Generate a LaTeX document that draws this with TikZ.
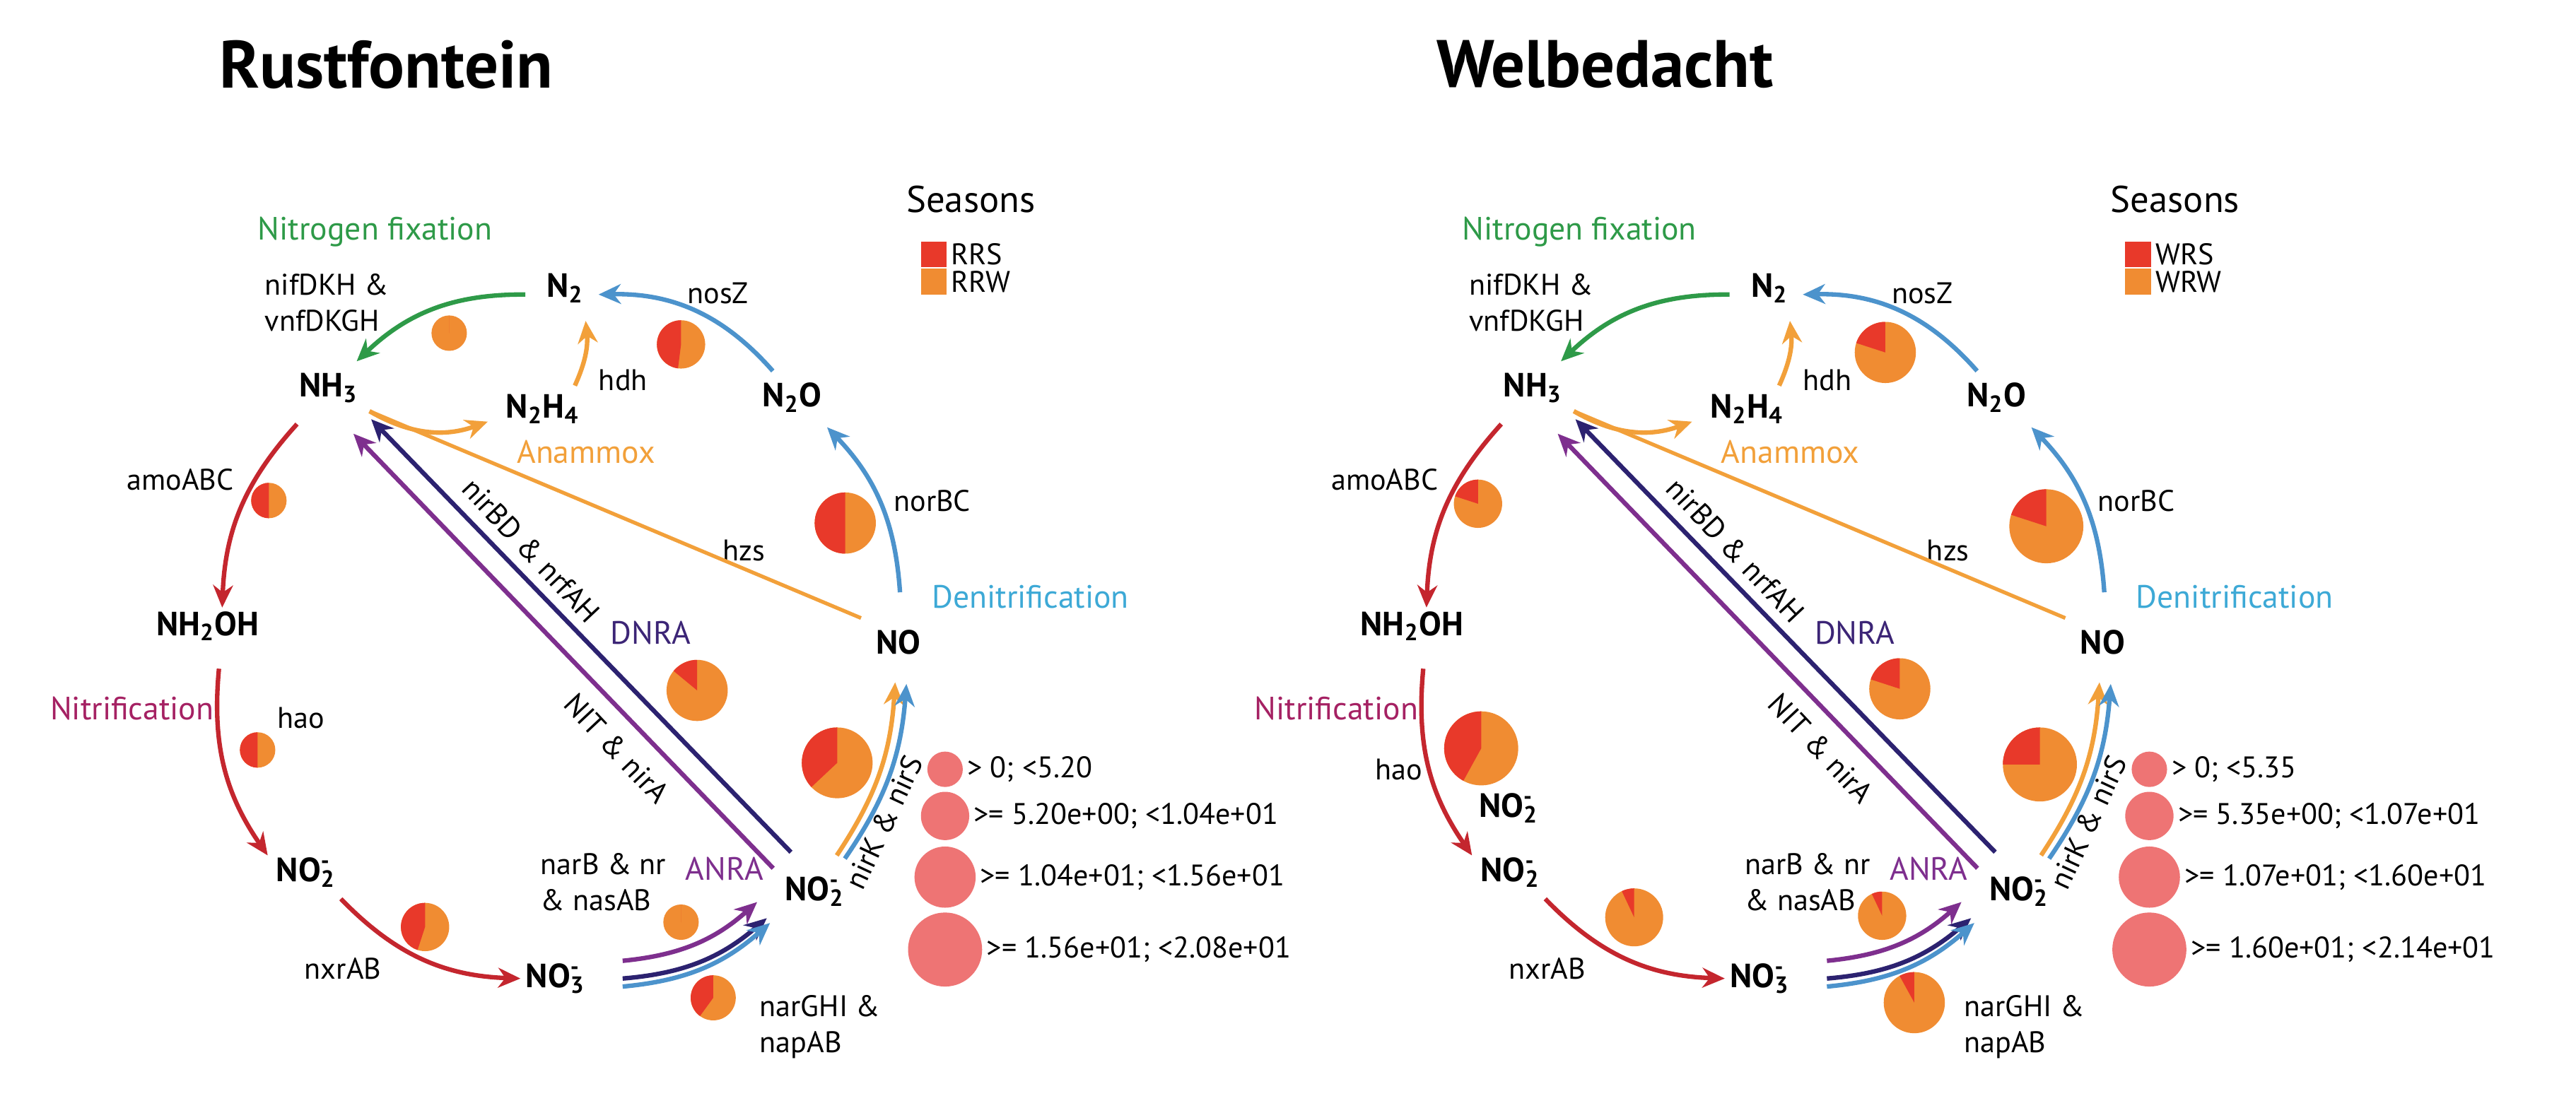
\documentclass[tikz,border=0pt]{standalone}
\usepackage{fontspec}
\setmainfont{PT Sans}
\usetikzlibrary{positioning, calc}
\usetikzlibrary{arrows, arrows.meta}
\tikzset{>={Stealth[length=9pt,width=8pt]}}
\definecolor{cred}{HTML}{C4262E}
\definecolor{cgreen}{HTML}{2E9A48}
\definecolor{cblue}{HTML}{4C93CC}
\definecolor{corange}{HTML}{F2A03A}
\definecolor{cpurple}{HTML}{7E2F8E}
\definecolor{cnavy}{HTML}{2C2270}
\definecolor{pred}{HTML}{E8392A}
\definecolor{porange}{HTML}{F08C32}
\definecolor{psize}{HTML}{EE7474}
\tikzset{
  mol/.style={font=\fontsize{13.5}{15}\selectfont\bfseries, inner sep=2pt},
  lbl/.style={font=\fontsize{12}{14.5}\selectfont, align=left, inner sep=1pt},
  path/.style={font=\fontsize{13}{15}\selectfont, inner sep=1pt},
  flow/.style={line width=1.8pt, ->},
  rod/.style={line width=1.5pt},
}
\newcommand\nox[2]{#1\rlap{\textsuperscript{-}}\textsubscript{#2}}
% pie: centre, radius, red share
\newcommand\seasonpie[4]{%
  \fill[porange] (#1,#2) circle[radius=#3];
  \fill[pred] (#1,#2) -- ++(90:#3) arc[start angle=90, delta angle=#4*360, radius=#3] -- cycle;}
\newcommand\cyclepanel[7]{%
  % species
  \node[mol] (nh3) at (204,-241) {NH\textsubscript{3}};
  \node[mol] (ntwo) at (351,-179) {N\textsubscript{2}};
  \node[mol] (n2h4) at (337,-254) {N\textsubscript{2}H\textsubscript{4}};
  \node[mol] (n2o) at (492,-247) {N\textsubscript{2}O};
  \node[mol] (nh2oh) at (129,-389) {NH\textsubscript{2}OH};
  \node[mol] (no) at (558,-399) {NO};
  \node[mol] (notwoL) at (190,-542) {\nox{NO}{2}};
  \node[mol] (nothree) at (345,-608) {\nox{NO}{3}};
  \node[mol] (notwoR) at (506,-554) {\nox{NO}{2}};
  % pathways
  \node[path, text=cgreen] at (233,-144) {Nitrogen fixation};
  \node[path, text=corange] at (364,-281) {Anammox};
  \node[path, text=cblue!80!cyan] at (640,-371) {Denitrification};
  \node[path, text=cnavy!80!cpurple] at (404,-393) {DNRA};
  \node[path, text=cpurple!70!red] at (82,-440) {Nitrification};
  \node[path, text=cpurple] at (450,-540) {ANRA};
  % genes
  \node[lbl] at (203,-188) {nifDKH \&\\vnfDKGH};
  \node[lbl] at (446,-182) {nosZ};
  \node[lbl] at (387,-236) {hdh};
  \node[lbl] at (112,-298) {amoABC};
  \node[lbl] at (579,-311) {norBC};
  \node[lbl] at (462,-342) {hzs};
  \node[lbl, anchor=west] at (334,-548) {narB \& nr\\\& nasAB};
  \node[lbl] at (213,-602) {nxrAB};
  \node[lbl, anchor=west] at (470,-638) {narGHI \&\\napAB};
  \node[lbl, rotate=-46.8] at (330,-342) {nirBD \& nrfAH};
  \node[lbl, rotate=-46.8] at (383,-465) {NIT \& nirA};
  \node[lbl, rotate=65] at (549,-511) {nirK \& nirS};
  % arrows
  \draw[flow, cgreen] ($(ntwo.west)+(-10,-4)$) to[bend right=22] ($(nh3.north east)+(-4,4)$);
  \draw[flow, cblue] ($(n2o.north)+(-12,4)$) to[bend right=25] ($(ntwo.east)+(6,-4)$);
  \draw[flow, corange] ($(n2h4.north east)+(-6,2)$) to[bend right=15] ($(ntwo.south east)+(-2,-8)$);
  \draw[flow, corange] ($(nh3.south east)+(4,-2)$) to[bend right=25] ($(n2h4.west)+(-8,-8)$);
  \draw[rod, corange] ($(no.north west)+(-6,4)$) -- ($(nh3.south east)+(4,-2)$);
  \draw[flow, cblue] ($(no.north)+(1,20)$) to[bend right=20] ($(n2o.south east)+(0,-6)$);
  \draw[flow, cred] ($(nh3.south west)+(2,-10)$) to[bend right=20] ($(nh2oh.north)+(9,-1)$);
  \draw[flow, cred] ($(nh2oh.south)+(7,-14)$) to[bend right=20] ($(notwoL.north west)+(-2,-2)$);
  \draw[flow, cred] ($(notwoL.south east)+(0,-4)$) to[bend right=22] (nothree.west);
  \draw[flow, cpurple] ($(nothree.east)+(20,11)$) to[bend right=18] ($(notwoR.south west)+(-14,6)$);
  \draw[flow, cnavy] ($(nothree.east)+(20,0)$) to[bend right=18] ($(notwoR.south west)+(-8,-4)$);
  \draw[flow, cblue] ($(nothree.east)+(20,-5)$) to[bend right=18] ($(notwoR.south west)+(-6,-7)$);
  \draw[flow, corange] ($(notwoR.north east)+(-8,10)$) to[bend right=15] ($(no.south)+(-2,-14)$);
  \draw[flow, cblue] ($(notwoR.north east)+(-3,8)$) to[bend right=15] ($(no.south)+(5,-15)$);
  \draw[flow, cpurple] ($(notwoR.north west)+(-4,2)$) -- ($(nh3.south east)+(-6,-16)$);
  \draw[flow, cnavy] ($(notwoR.north west)+(7,12)$) -- ($(nh3.south east)+(5,-7)$);
  % legend
  \node[font=\fontsize{15}{17}\selectfont] at (603,-124) {Seasons};
  \fill[pred] (572,-150) rectangle (588,-166);
  \fill[porange] (572,-167) rectangle (588,-183);
  \node[lbl, anchor=west] at (589,-158) {#1};
  \node[lbl, anchor=west] at (589,-175) {#2};
  \fill[psize] (587,-478) circle[radius=11];
  \fill[psize] (587,-507) circle[radius=15];
  \fill[psize] (587,-545) circle[radius=19];
  \fill[psize] (587,-590) circle[radius=23];
  \node[lbl, anchor=west] at (599,-478) {> 0; <#3};
  \node[lbl, anchor=west] at (603,-507) {>= #4; <#5};
  \node[lbl, anchor=west] at (607,-545) {>= #5; <#6};
  \node[lbl, anchor=west] at (611,-590) {>= #6; <#7};
}
\begin{document}
\begin{tikzpicture}[x=0.022775cm, y=0.022775cm]
  \fill[white] (0,0) rectangle (1600,-681);
  \useasboundingbox (0,0) rectangle (1600,-681);
  \node[font=\fontsize{27}{30}\selectfont\bfseries] (titleL) at (240,-40) {Rustfontein};
  \node[font=\fontsize{27}{30}\selectfont\bfseries] (titleR) at (997,-40) {Welbedacht};

  \begin{scope}[name prefix=L-]
    \cyclepanel{RRS}{RRW}{5.20}{5.20e+00}{1.04e+01}{1.56e+01}{2.08e+01}
    \node[lbl] at (187,-446) {hao};
    \seasonpie{279}{-207}{11}{0}
    \seasonpie{423}{-214}{15}{0.48}
    \seasonpie{167}{-311}{11}{0.5}
    \seasonpie{525}{-325}{19}{0.5}
    \seasonpie{433}{-429}{19}{0.14}
    \seasonpie{160}{-466}{11}{0.5}
    \seasonpie{520}{-474}{22}{0.37}
    \seasonpie{264}{-576}{15}{0.45}
    \seasonpie{423}{-573}{11}{0}
    \seasonpie{443}{-620}{14}{0.4}
  \end{scope}

  \begin{scope}[xshift=748*0.022775cm, name prefix=R-]
    \cyclepanel{WRS}{WRW}{5.35}{5.35e+00}{1.07e+01}{1.60e+01}{2.14e+01}
    \node[lbl] at (121,-478) {hao};
    \node[mol] (notwoX) at (189,-502) {\nox{NO}{2}};
    \seasonpie{170}{-313}{15}{0.2}
    \seasonpie{423}{-219}{19}{0.2}
    \seasonpie{523}{-327}{23}{0.2}
    \seasonpie{432}{-428}{19}{0.2}
    \seasonpie{172}{-465}{23}{0.42}
    \seasonpie{519}{-475}{23}{0.25}
    \seasonpie{267}{-570}{18}{0.07}
    \seasonpie{421}{-569}{15}{0.07}
    \seasonpie{441}{-623}{19}{0.08}
  \end{scope}
\end{tikzpicture}
\end{document}
